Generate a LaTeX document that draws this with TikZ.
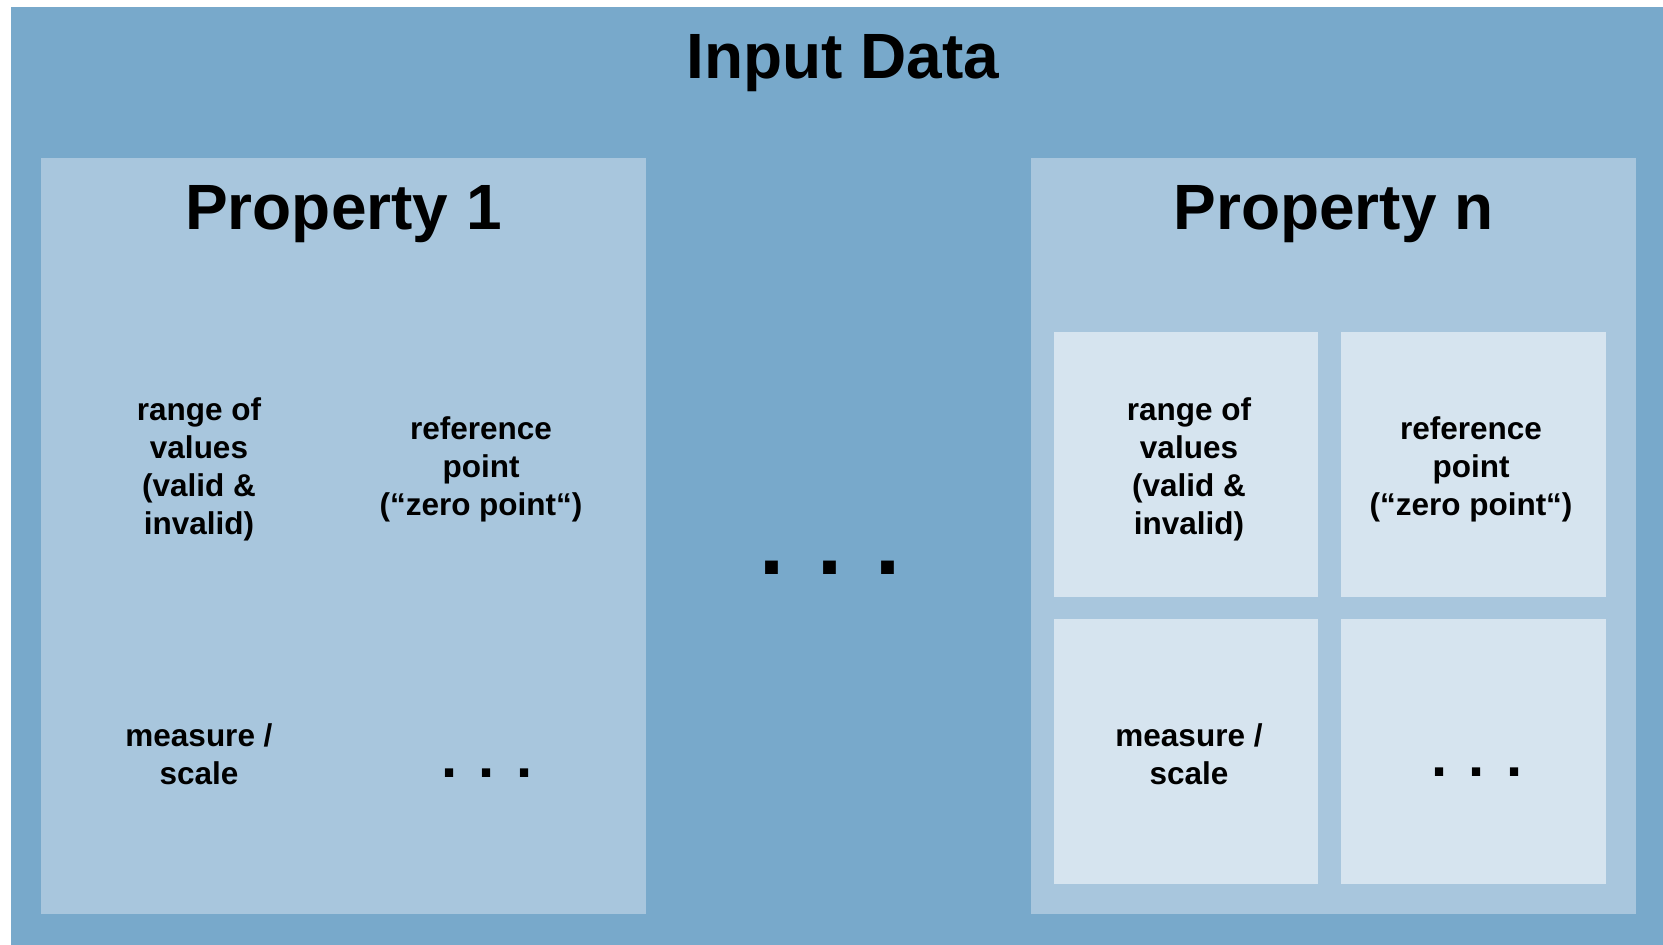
\documentclass[tikz,border=0pt]{standalone}
\usepackage{fontspec}
\setmainfont{Liberation Sans}
\definecolor{outerblue}{HTML}{78A9CB}
\definecolor{propblue}{HTML}{A8C6DD}
\definecolor{cellblue}{HTML}{D6E4EF}
\begin{document}
\begin{tikzpicture}[x=1pt,y=-1pt,
  heading/.style={font=\fontsize{64}{70}\selectfont\bfseries, inner sep=0pt, anchor=base},
  body/.style={font=\fontsize{31.5}{38}\selectfont\bfseries, align=center, inner sep=0pt},
  dotsmall/.style={font=\fontsize{58}{64}\selectfont\bfseries, inner sep=0pt, anchor=base},
  dotbig/.style={font=\fontsize{90}{96}\selectfont\bfseries, inner sep=0pt, anchor=base},
  cell/.style={fill=cellblue, draw=none}]
\useasboundingbox (0,0) rectangle (1663,945);
\fill[white] (0,0) rectangle (1663,945);
% outer box
\fill[outerblue] (11,7) rectangle (1663,945);
\node[heading] (title) at (843,78) {Input Data};
% property boxes
\fill[propblue] (41,158) rectangle (646,914);
\fill[propblue] (1031,158) rectangle (1636,914);
\node[heading] (p1) at (343.5,229) {Property 1};
\node[heading] (pn) at (1333.5,229) {Property n};
% cells of property n
\fill[cell] (1054,332) rectangle (1318,597);
\fill[cell] (1341,332) rectangle (1606,597);
\fill[cell] (1054,619) rectangle (1318,884);
\fill[cell] (1341,619) rectangle (1606,884);
% texts property 1
\node[body] (r1) at (199,469) {range of\\values\\(valid \&\\invalid)};
\node[body] (z1) at (481,469) {reference\\point\\(“zero point“)};
\node[body] (m1) at (199,754) {measure /\\scale};
\node[dotsmall] (d1) at (487,777) {. . .};
% texts property n
\node[body] (rn) at (1189,469) {range of\\values\\(valid \&\\invalid)};
\node[body] (zn) at (1471,469) {reference\\point\\(“zero point“)};
\node[body] (mn) at (1189,754) {measure /\\scale};
\node[dotsmall] (dn) at (1477,776) {. . .};
% big dots
\node[dotbig] (mid) at (830,574) {. . .};
\end{tikzpicture}
\end{document}
